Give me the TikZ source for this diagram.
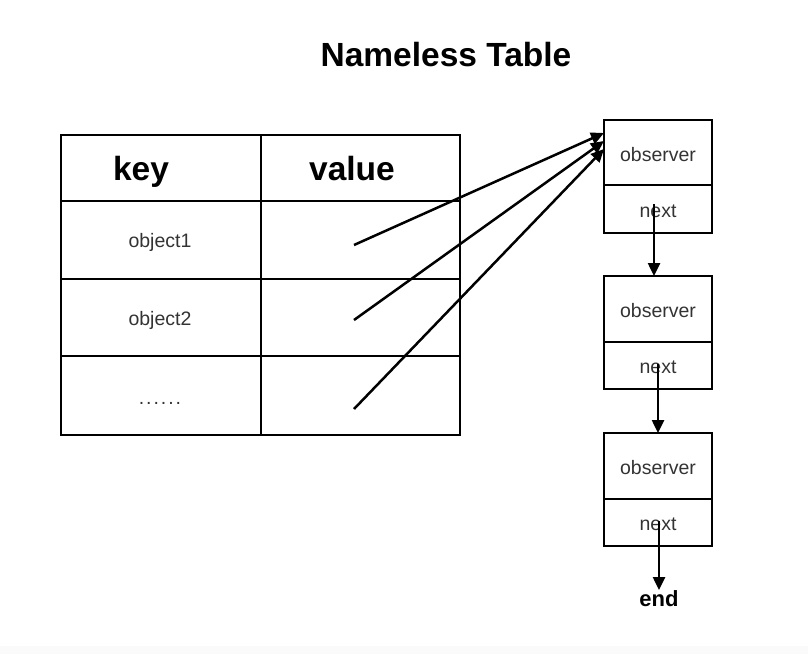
\documentclass[tikz,border=0pt]{standalone}
\usepackage{fontspec}
\setmainfont{Liberation Sans}
\usetikzlibrary{arrows.meta}
\begin{document}
\begin{tikzpicture}[x=1pt,y=-1pt,
  sm/.style={font=\fontsize{19.5}{23}\selectfont,text=black!80},
  bg/.style={font=\bfseries\fontsize{33.5}{38}\selectfont},
  ln/.style={line width=2.8pt},
  arr/.style={line width=2.5pt,-{Triangle[length=13pt,width=12pt]}}]
\useasboundingbox (0,0) rectangle (808,654);
\fill[gray!4] (0,646) rectangle (808,654);
% title
\node[bg] (title) at (446,55) {Nameless Table};
% table
\draw[ln] (61,135) rectangle (460,435);
\draw[ln] (261,135) -- (261,435);
\draw[ln] (61,201) -- (460,201);
\draw[ln] (61,279) -- (460,279);
\draw[ln] (61,356) -- (460,356);
\node[bg,anchor=base] (key) at (141,180) {key};
\node[bg,anchor=base] (value) at (352,180) {value};
\node[sm] (o1) at (160,242) {object1};
\node[sm] (o2) at (160,320) {object2};
\node[sm,anchor=base] (dots) at (160,404) {\addfontfeatures{LetterSpace=10}......};
\coordinate (s1) at (354,245);
\coordinate (s2) at (354,320);
\coordinate (s3) at (354,409);
% list boxes
\foreach \n/\t/\m/\b in {1/120/185/233, 2/276/342/389, 3/433/499/546}{
  \draw[ln] (604,\t) rectangle (712,\b);
  \draw[ln] (604,\m) -- (712,\m);
  \node[sm] (obs\n) at (658,{(\t+\m)/2+2}) {observer};
  \node[sm] (nx\n) at (658,{(\m+\b)/2+2}) {next};
}
\coordinate (t1) at (604,133);
\coordinate (t2) at (604,141);
\coordinate (t3) at (604,149);
\draw[arr] (s1) -- (t1);
\draw[arr] (s2) -- (t2);
\draw[arr] (s3) -- (t3);
\node[font=\bfseries\fontsize{22}{26}\selectfont] (end) at (659,599) {end};
\draw[arr] (654,204) -- (654,276);
\draw[arr] (658,364) -- (658,433);
\draw[arr] (659,521) -- (659,590);
\end{tikzpicture}
\end{document}
